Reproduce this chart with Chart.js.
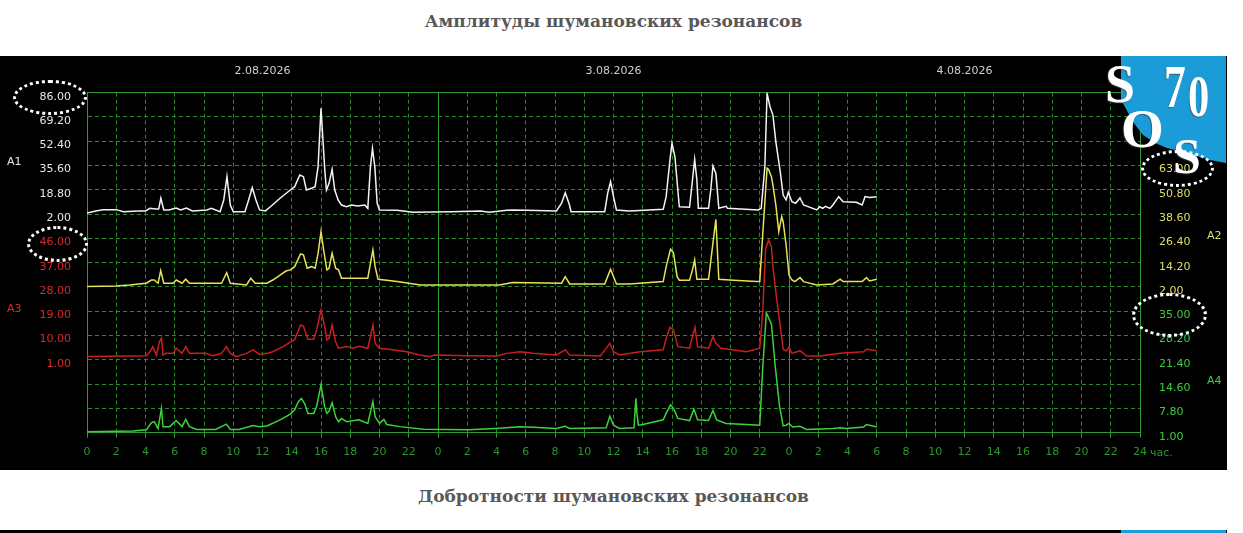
<!DOCTYPE html>
<html>
<head>
<meta charset="utf-8">
<script src="https://cdn.jsdelivr.net/npm/chart.js@4.4.1/dist/chart.umd.min.js"></script>
<style>
html,body{margin:0;padding:0;background:#fff;width:1243px;height:533px;overflow:hidden;position:relative;}
.title{position:absolute;left:0;width:1227px;text-align:center;font-family:"DejaVu Serif",serif;font-weight:bold;font-size:17px;line-height:20px;color:#585858;}
#panel{position:absolute;left:0;top:56px;width:1227px;height:414px;background:#000;}
#chart{position:absolute;left:0;top:0;}
.alab{position:absolute;font-family:"DejaVu Sans",sans-serif;font-size:11px;line-height:12px;}
#logo{position:absolute;left:1121px;top:56px;width:105px;height:112px;background:#1b9cd9;
  clip-path:polygon(0 0,105px 0,105px 107px,89px 104px,66px 97px,46px 92px,34px 87px,22px 79px,12px 66px,4px 51px,0 44px);}
.lg{position:absolute;font-family:"Liberation Serif","Times New Roman",serif;font-weight:bold;color:#fff;line-height:1;
  text-shadow:-1px 1px 1px rgba(60,60,60,0.6);}
.ell{position:absolute;box-sizing:border-box;border:3px dotted #fff;border-radius:50%;}
#bar2{position:absolute;left:0;top:530px;width:1227px;height:3px;background:#000;}
#bar2b{position:absolute;left:1121px;top:530px;width:105px;height:3px;background:#1b9cd9;}
</style>
</head>
<body>
<div class="title" style="top:11px;">Амплитуды шумановских резонансов</div>
<div id="panel"><canvas id="chart" width="1227" height="414"></canvas></div>

<div class="alab" style="left:7px;top:156px;color:#e6e6e6;">A1</div>
<div class="alab" style="left:7px;top:303px;color:#dc2a2a;">A3</div>
<div class="alab" style="left:1207px;top:230px;color:#e0dc6e;">A2</div>
<div class="alab" style="left:1207px;top:375px;color:#3ccc3c;">A4</div>
<div class="alab" style="left:1150px;top:447px;color:#2a982a;">час.</div>

<div id="logo"></div>
<div class="lg" style="left:1105px;top:57px;font-size:54px;">S</div>
<div class="lg" style="left:1164px;top:55px;font-size:62px;transform:scaleX(0.7);transform-origin:0 0;">7</div>
<div class="lg" style="left:1188px;top:67px;font-size:59px;transform:scaleX(0.72);transform-origin:0 0;">0</div>
<div class="lg" style="left:1121px;top:101px;font-size:55px;">O</div>
<div class="lg" style="left:1173px;top:131px;font-size:50px;">S</div>

<div class="ell" style="left:13px;top:80px;width:74px;height:35px;"></div>
<div class="ell" style="left:27px;top:226px;width:61px;height:36px;"></div>
<div class="ell" style="left:1141px;top:150px;width:73px;height:37px;"></div>
<div class="ell" style="left:1132px;top:293px;width:75px;height:44px;"></div>

<div class="title" style="top:486px;">Добротности шумановских резонансов</div>
<div id="bar2"></div><div id="bar2b"></div>

<script>
// ---- tick labels ----
const dayLabels = ['2.08.2026', '3.08.2026', '4.08.2026'];
const dayCenterHours = [12, 36, 60];
const hourTickLabels = ['0','2','4','6','8','10','12','14','16','18','20','22',
                        '0','2','4','6','8','10','12','14','16','18','20','22',
                        '0','2','4','6','8','10','12','14','16','18','20','22','24'];
const a1Ticks = [86.00, 69.20, 52.40, 35.60, 18.80, 2.00];
const a3Ticks = [46.00, 37.00, 28.00, 19.00, 10.00, 1.00];
const a2Ticks = [63.00, 50.80, 38.60, 26.40, 14.20, 2.00];
const a4Ticks = [35.00, 28.20, 21.40, 14.60, 7.80, 1.00];

// ---- series (hours since 0:00 of 2.08.2026, amplitude) ----
const a1Hours = [0,0.6,1.1,2.0,2.5,3.5,4.0,4.3,4.7,4.9,5.05,5.25,5.6,6.1,6.4,6.8,7.2,8.2,8.5,9.1,9.35,9.57,9.8,10.0,10.8,11.05,11.3,11.55,11.8,12.2,12.6,13.2,13.9,14.2,14.55,14.8,15.0,15.35,15.6,15.8,16.0,16.26,16.37,16.55,16.76,16.94,17.17,17.4,17.74,18.08,18.5,18.99,19.2,19.38,19.52,19.68,19.84,20.0,21.2,22.3,24.9,26.9,27.5,28.7,29.1,30.05,32.1,32.45,32.7,32.97,33.1,35.4,35.6,35.8,36.0,36.2,37.1,39.4,39.6,39.86,40.0,40.2,40.4,40.5,41.2,41.4,41.55,41.7,41.8,42.5,42.65,42.8,43.0,43.2,43.7,43.8,45.9,46.1,46.35,46.5,46.7,46.9,47.1,47.4,47.6,47.8,47.95,48.2,48.45,48.75,49.0,49.9,50.1,50.3,50.5,50.8,51.0,51.4,51.7,52.6,53.0,53.2,53.5,54.0];
const a1Values = [2.8,4.2,5.1,5.1,3.7,4.2,4.2,6.0,5.5,5.5,13.0,4.9,4.9,6.2,4.9,6.2,4.2,4.9,6.0,3.7,11.8,27.9,8.3,3.7,3.7,11.8,20.3,11.8,4.9,4.2,7.6,13.0,18.7,21.0,29.1,27.9,18.7,19.9,21.0,34.8,75.2,32.5,18.7,23.3,33.0,18.7,11.8,8.3,7.1,8.3,7.7,8.3,6.0,34.8,47.5,34.8,9.5,4.9,4.6,3.3,3.7,4.2,3.3,4.6,4.9,4.6,4.2,9.5,16.8,9.0,3.7,3.7,16.4,24.4,14.1,4.9,4.2,5.3,14.1,39.4,51.0,41.7,18.7,7.1,6.7,25.6,39.9,25.6,6.0,6.0,18.7,35.3,30.2,6.0,7.4,6.0,4.9,6.0,35.0,85.6,76.3,70.5,52.1,31.4,15.2,11.8,17.1,10.6,9.5,13.2,8.3,4.9,7.1,6.0,7.4,6.0,8.3,14.1,10.6,10.2,8.3,14.1,13.5,14.1];

const a2Hours = [0,2.0,2.9,4.06,4.4,4.6,4.86,5.04,5.25,5.9,6.1,6.5,6.75,7.0,9.2,9.55,9.8,10.9,11.2,11.5,12.3,12.7,13.2,13.6,13.9,14.2,14.6,14.8,15.05,15.35,15.6,15.8,16.0,16.2,16.4,16.55,16.76,17.0,17.2,17.4,19.2,19.4,19.55,19.7,19.9,20.5,21.2,22.8,28.2,29.1,32.45,32.7,33.0,35.4,35.6,35.8,36.1,36.2,37.1,39.4,39.6,39.9,40.1,40.35,40.5,41.2,41.4,41.55,41.7,42.5,42.8,43.0,43.2,44.2,45.8,46.0,46.2,46.5,46.6,46.8,46.9,47.1,47.3,47.5,47.6,47.8,48.0,48.2,48.4,48.75,49.0,49.9,51.0,51.5,51.7,53.0,53.3,53.5,54.0];
const a2Values = [2.2,2.5,3.0,3.9,5.5,5.5,3.9,10.2,3.9,3.9,5.5,3.9,5.9,3.9,3.9,9.2,3.9,3.0,6.4,3.9,3.9,5.5,8.0,10.0,10.6,12.2,18.6,18.2,11.4,12.2,11.4,18.9,29.8,19.7,10.6,11.4,18.9,11.4,10.6,6.4,6.4,14.7,20.6,12.2,5.9,5.4,4.7,3.0,3.0,4.2,3.9,7.2,3.5,3.5,7.2,10.9,5.4,3.5,3.5,4.7,12.2,21.0,19.2,7.2,5.4,5.4,10.6,15.6,5.9,5.9,24.0,36.0,5.9,5.4,4.7,4.7,28.1,61.6,61.0,57.4,53.2,43.2,29.8,37.3,34.8,23.1,8.0,5.5,4.7,6.7,4.7,3.0,3.5,5.9,4.7,4.7,6.7,5.0,5.9];

const a3Hours = [0,4.06,4.3,4.5,4.75,4.95,5.09,5.2,5.4,5.9,6.1,6.5,6.75,7.0,8.1,8.6,9.2,9.53,9.8,10.2,10.9,11.35,11.8,12.3,12.7,13.4,13.9,14.2,14.6,14.8,15.1,15.5,15.7,16.0,16.25,16.4,16.55,16.76,17.0,17.2,17.75,18.2,18.6,19.2,19.55,19.7,20.0,20.9,21.85,22.75,23.4,23.8,26.0,28.0,28.7,29.6,30.5,32.1,32.7,33.0,35.1,35.75,36.0,36.4,37.8,39.4,39.6,39.86,40.1,40.4,41.2,41.4,41.57,41.75,42.5,42.8,43.0,43.35,45.1,46.0,46.2,46.4,46.6,46.8,46.9,47.1,47.4,47.6,47.8,48.0,48.2,48.75,49.2,50.1,51.5,53.1,53.3,54.0];
const a3Values = [2.2,2.5,4.0,5.9,2.8,7.7,9.0,2.8,3.4,3.4,5.3,3.4,5.9,3.4,3.4,2.5,3.4,5.9,3.4,2.2,3.4,4.7,3.0,3.4,4.0,5.9,7.6,8.5,13.9,13.5,8.6,8.6,12.1,19.5,13.3,8.4,9.0,13.9,7.7,5.3,5.9,5.3,6.0,5.3,13.9,7.1,5.3,4.7,4.0,2.8,2.2,2.8,2.5,2.4,3.4,4.0,3.4,2.8,4.7,2.8,2.4,7.1,4.0,2.8,4.0,4.7,9.0,13.1,12.1,5.9,5.3,9.6,13.1,5.9,5.3,9.6,7.1,5.3,4.0,5.3,18.6,42.0,45.4,42.8,35.5,26.0,13.5,5.0,4.3,5.6,3.4,4.4,2.4,2.4,3.4,4.0,4.9,4.4];

const a4Hours = [0,3.15,4.06,4.4,4.6,4.86,5.09,5.2,5.65,6.1,6.5,6.75,7.0,7.5,8.8,9.53,9.8,10.4,11.35,11.8,12.3,13.2,13.9,14.2,14.45,14.66,14.9,15.1,15.5,15.7,16.0,16.25,16.4,16.55,16.76,17.0,17.2,17.4,17.75,18.6,19.2,19.55,19.7,20.0,20.3,20.5,21.4,23.0,26.1,27.9,29.6,30.5,32.1,32.7,33.0,35.5,35.75,36.0,36.4,37.4,37.53,37.6,37.7,38.0,39.4,39.6,39.9,40.1,40.4,41.2,41.5,41.75,42.5,42.8,43.05,43.7,45.1,46.0,46.2,46.45,46.8,47.05,47.35,47.6,47.8,48.0,48.25,48.75,49.2,51.0,51.5,51.9,53.1,53.3,54.0];
const a4Values = [1.3,1.5,1.8,3.8,4.1,2.2,7.8,2.7,2.7,4.4,2.7,4.7,2.7,1.9,1.9,3.4,1.9,1.9,3.0,2.7,2.9,4.6,6.2,7.4,9.7,10.6,9.0,6.4,6.4,8.3,14.4,8.3,6.4,7.0,9.4,5.5,4.1,5.0,4.1,4.6,3.6,9.7,5.5,3.6,4.7,3.3,2.7,2.0,1.8,2.2,2.7,2.5,2.2,2.8,2.2,2.4,5.6,3.1,2.2,2.4,10.6,6.4,3.1,3.3,4.6,6.4,8.8,7.8,5.0,4.4,7.6,4.6,4.4,7.2,4.6,3.6,3.3,3.1,19.0,34.6,31.4,20.0,8.5,2.9,3.1,3.6,2.6,2.8,1.9,2.2,2.4,2.2,2.6,3.3,2.6];

// ---- layout of the stacked bands (grid rows) ----
const ROWS = 14;
function band(ticks, startRow) {
  const step = ticks[0] - ticks[1];
  const max = ticks[0] + startRow * step;
  return { ticks, startRow, step, max, min: max - ROWS * step };
}
const B1 = band(a1Ticks, 0), B3 = band(a3Ticks, 6), B2 = band(a2Ticks, 3), B4 = band(a4Ticks, 9);
const rowOf = (B, v) => Math.round((B.max - v) / B.step);

const COL = { a1: '#e6e6e6', a3: '#dc2a2a', a2: '#e0dc6e', a4: '#3ccc3c', x: '#2a982a', date: '#cfcfcf' };
const GRID_DASH = '#2a8a2a', GRID_SOLID = '#2e9c2e';
const FONT = { family: '"DejaVu Sans", sans-serif', size: 11 };

function rowTicks(B) { return s => { const t = []; for (let r = ROWS; r >= 0; r--) t.push({ value: B.max - r * B.step }); s.ticks = t; }; }
function bandLabel(B, r) { const i = r - B.startRow; return (i >= 0 && i < B.ticks.length) ? B.ticks[i].toFixed(2) : null; }

const pts = (hs, vs) => hs.map((h, i) => ({ x: h, y: vs[i] }));
const line = (label, hs, vs, axis, color) => ({
  label, data: pts(hs, vs), yAxisID: axis, borderColor: color, borderWidth: 1.5,
  pointRadius: 0, tension: 0, fill: false
});

new Chart(document.getElementById('chart'), {
  type: 'line',
  data: {
    datasets: [
      line('A4', a4Hours, a4Values, 'yA4', '#3cd23c'),
      line('A3', a3Hours, a3Values, 'yA3', '#c81e1e'),
      line('A2', a2Hours, a2Values, 'yA2', '#e6e35a'),
      line('A1', a1Hours, a1Values, 'yA1', '#f4f4f4')
    ]
  },
  options: {
    responsive: false, animation: false, devicePixelRatio: 1,
    layout: { padding: 0 },
    plugins: { legend: { display: false }, tooltip: { enabled: false } },
    scales: {
      x: {
        type: 'linear', position: 'bottom', min: 0, max: 72,
        afterBuildTicks: s => { s.ticks = hourTickLabels.map((l, i) => ({ value: i * 2 })); },
        afterFit: s => { s.height = 37.3; },
        grid: {
          color: c => (c.tick && c.tick.value % 24 === 0) ? GRID_SOLID : GRID_DASH,
          lineWidth: 1, drawTicks: true, tickLength: 5, tickColor: GRID_SOLID, tickBorderDash: []
        },
        border: { display: true, color: GRID_SOLID, width: 1,
          dash: c => (c.tick && c.tick.value % 24 !== 0) ? [4, 3] : [] },
        ticks: { autoSkip: false, maxRotation: 0, padding: 8, color: COL.x, font: FONT,
          callback: (v, i) => hourTickLabels[i] }
      },
      x2: {
        type: 'linear', position: 'top', min: 0, max: 72,
        afterBuildTicks: s => { s.ticks = dayCenterHours.map(h => ({ value: h })); },
        afterFit: s => { s.height = 36.7; },
        grid: { drawOnChartArea: false, drawTicks: false },
        border: { display: true, color: GRID_SOLID, width: 1 },
        ticks: { autoSkip: false, maxRotation: 0, padding: 15, color: COL.date, font: FONT,
          callback: (v, i) => dayLabels[i] }
      },
      yA1: {
        type: 'linear', position: 'left', min: B1.min, max: B1.max,
        afterBuildTicks: rowTicks(B1),
        afterFit: s => { s.width = 87; },
        grid: {
          color: c => { const r = c.tick ? rowOf(B1, c.tick.value) : 0; return (r === 0 || r === ROWS) ? GRID_SOLID : GRID_DASH; },
          lineWidth: 1, drawTicks: false
        },
        border: { display: true, color: GRID_SOLID, width: 1,
          dash: c => { if (!c.tick) return []; const r = rowOf(B1, c.tick.value); return (r === 0 || r === ROWS) ? [] : [4, 3]; } },
        ticks: {
          autoSkip: false, padding: 16, labelOffset: 4, font: FONT,
          color: c => { const r = rowOf(B1, c.tick.value); return bandLabel(B1, r) !== null ? COL.a1 : COL.a3; },
          callback: v => { const r = rowOf(B1, v); return bandLabel(B1, r) ?? bandLabel(B3, r) ?? ''; }
        }
      },
      yA3: { type: 'linear', display: false, min: B3.min, max: B3.max },
      yA2: {
        type: 'linear', position: 'right', min: B2.min, max: B2.max,
        afterBuildTicks: rowTicks(B2),
        afterFit: s => { s.width = 87; },
        grid: { drawOnChartArea: false, drawTicks: false },
        border: { display: true, color: GRID_SOLID, width: 1 },
        ticks: {
          autoSkip: false, padding: 19, labelOffset: 4, font: FONT,
          color: c => { const r = rowOf(B2, c.tick.value); return bandLabel(B2, r) !== null ? COL.a2 : COL.a4; },
          callback: v => { const r = rowOf(B2, v); return bandLabel(B2, r) ?? bandLabel(B4, r) ?? ''; }
        }
      },
      yA4: { type: 'linear', display: false, min: B4.min, max: B4.max }
    }
  }
});
</script>
</body>
</html>
